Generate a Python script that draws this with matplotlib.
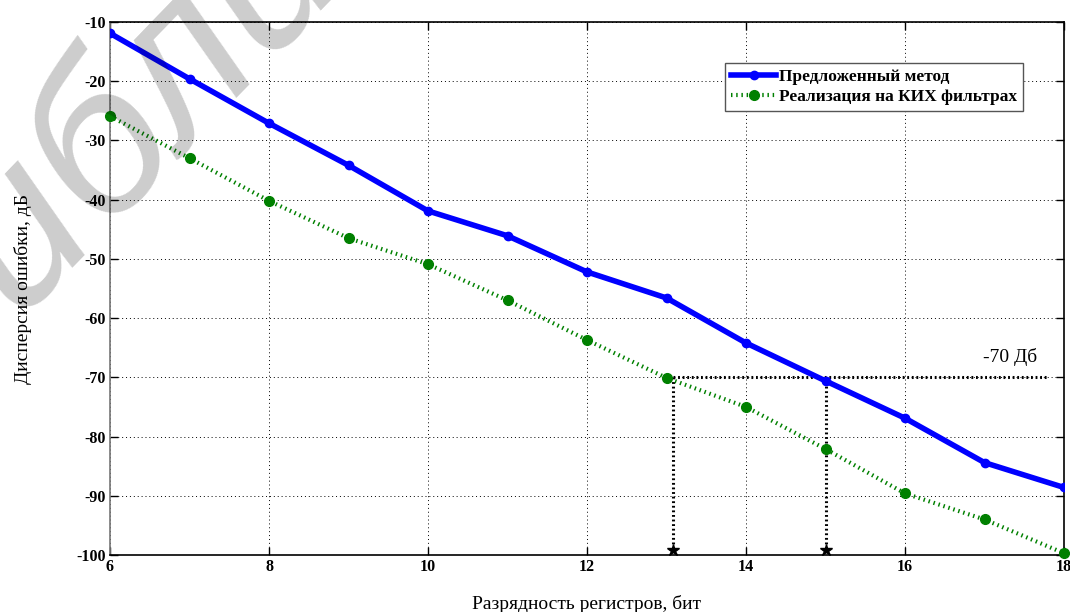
import matplotlib
matplotlib.use("Agg")
import matplotlib.pyplot as plt

plt.rcParams["axes.unicode_minus"] = False

bits = [6, 7, 8, 9, 10, 11, 12, 13, 14, 15, 16, 17, 18]
proposed = [-11.9, -19.6, -27.1, -34.2, -41.9, -46.1, -52.2, -56.6, -64.2, -70.6, -76.9, -84.4, -88.6]
fir = [-25.9, -33.0, -40.2, -46.5, -50.9, -57.0, -63.7, -70.1, -75.0, -82.1, -89.6, -94.0, -99.7]
label_proposed = "Предложенный метод"
label_fir = "Реализация на КИХ фильтрах"
level = -70
level_x_start = 13.08
level_x_end = 17.8
cross_x = [13.08, 15.0]
ymin, ymax = -100, -10
xticks = [6, 8, 10, 12, 14, 16, 18]
yticks = list(range(-100, -9, 10))
watermark = "библиотека"

serif = ["Liberation Serif", "DejaVu Serif"]

W, H = 1070, 612
fig = plt.figure(figsize=(W/100, H/100), dpi=100)
ax = fig.add_axes([110/W, 1-555/H, (1064-110)/W, (555-22)/H])

ax.grid(True, color="black", linestyle=(0, (1, 3)), linewidth=0.7)
ax.set_axisbelow(True)

# -70 dB reference lines
ax.plot([level_x_start, level_x_end], [level, level], color="black", linestyle=(0, (0.6, 0.9)), linewidth=2.2, zorder=2)
for cx in cross_x:
    ax.plot([cx, cx], [level, ymin + 0.8], color="black", linestyle=(0, (0.6, 0.9)), linewidth=2.2, zorder=2)
    ax.plot([cx], [ymin + 0.8], marker="*", color="black", markersize=9, zorder=3, clip_on=False)

ax.plot(bits, proposed, color="#0000ff", linewidth=4, marker="o", markersize=6, label=label_proposed, zorder=4)
ax.plot(bits, fir, color="#008000", linewidth=3, linestyle=(0, (0.35, 0.9)), marker="o", markersize=7, label=label_fir, zorder=4, clip_on=False)

ax.text(16.98, -66.5, "-70 Дб", fontfamily=serif, fontsize=14, ha="left", va="center")

ax.set_xlim(6, 18)
ax.set_ylim(ymin, ymax)
ax.set_xticks(xticks)
ax.set_yticks(yticks)
ax.tick_params(direction="in", length=6, width=1, top=True, right=True, pad=3)
for lab in ax.get_xticklabels() + ax.get_yticklabels():
    lab.set_fontfamily(serif)
    lab.set_fontweight("bold")
    lab.set_fontsize(11.5)
for s in ax.spines.values():
    s.set_linewidth(1.2)
ax.spines["left"].set_color("#777777")

ax.set_xlabel("Разрядность регистров, бит", fontfamily=serif, fontsize=14, labelpad=14)
ax.set_ylabel("Дисперсия ошибки, дБ", fontfamily=serif, fontsize=14, labelpad=32)

leg = ax.legend(loc="upper right", bbox_to_anchor=((1023-110)/954, (555-63)/533),
                prop={"family": serif, "weight": "bold", "size": 12.5},
                frameon=True, fancybox=False, edgecolor="#555555", framealpha=1,
                borderpad=0.35, labelspacing=0.2, handlelength=2.6, handletextpad=0.15,
                borderaxespad=0)
leg.get_frame().set_linewidth(1.0)

# watermark over the chart
fig.text(-0.062, 0.345, watermark, fontsize=155, fontstyle="italic",
         family=["Liberation Sans", "DejaVu Sans"], color="black", alpha=0.2,
         rotation=46, rotation_mode="anchor", ha="left", va="baseline", zorder=10)

fig.savefig("out.png", dpi=100)
